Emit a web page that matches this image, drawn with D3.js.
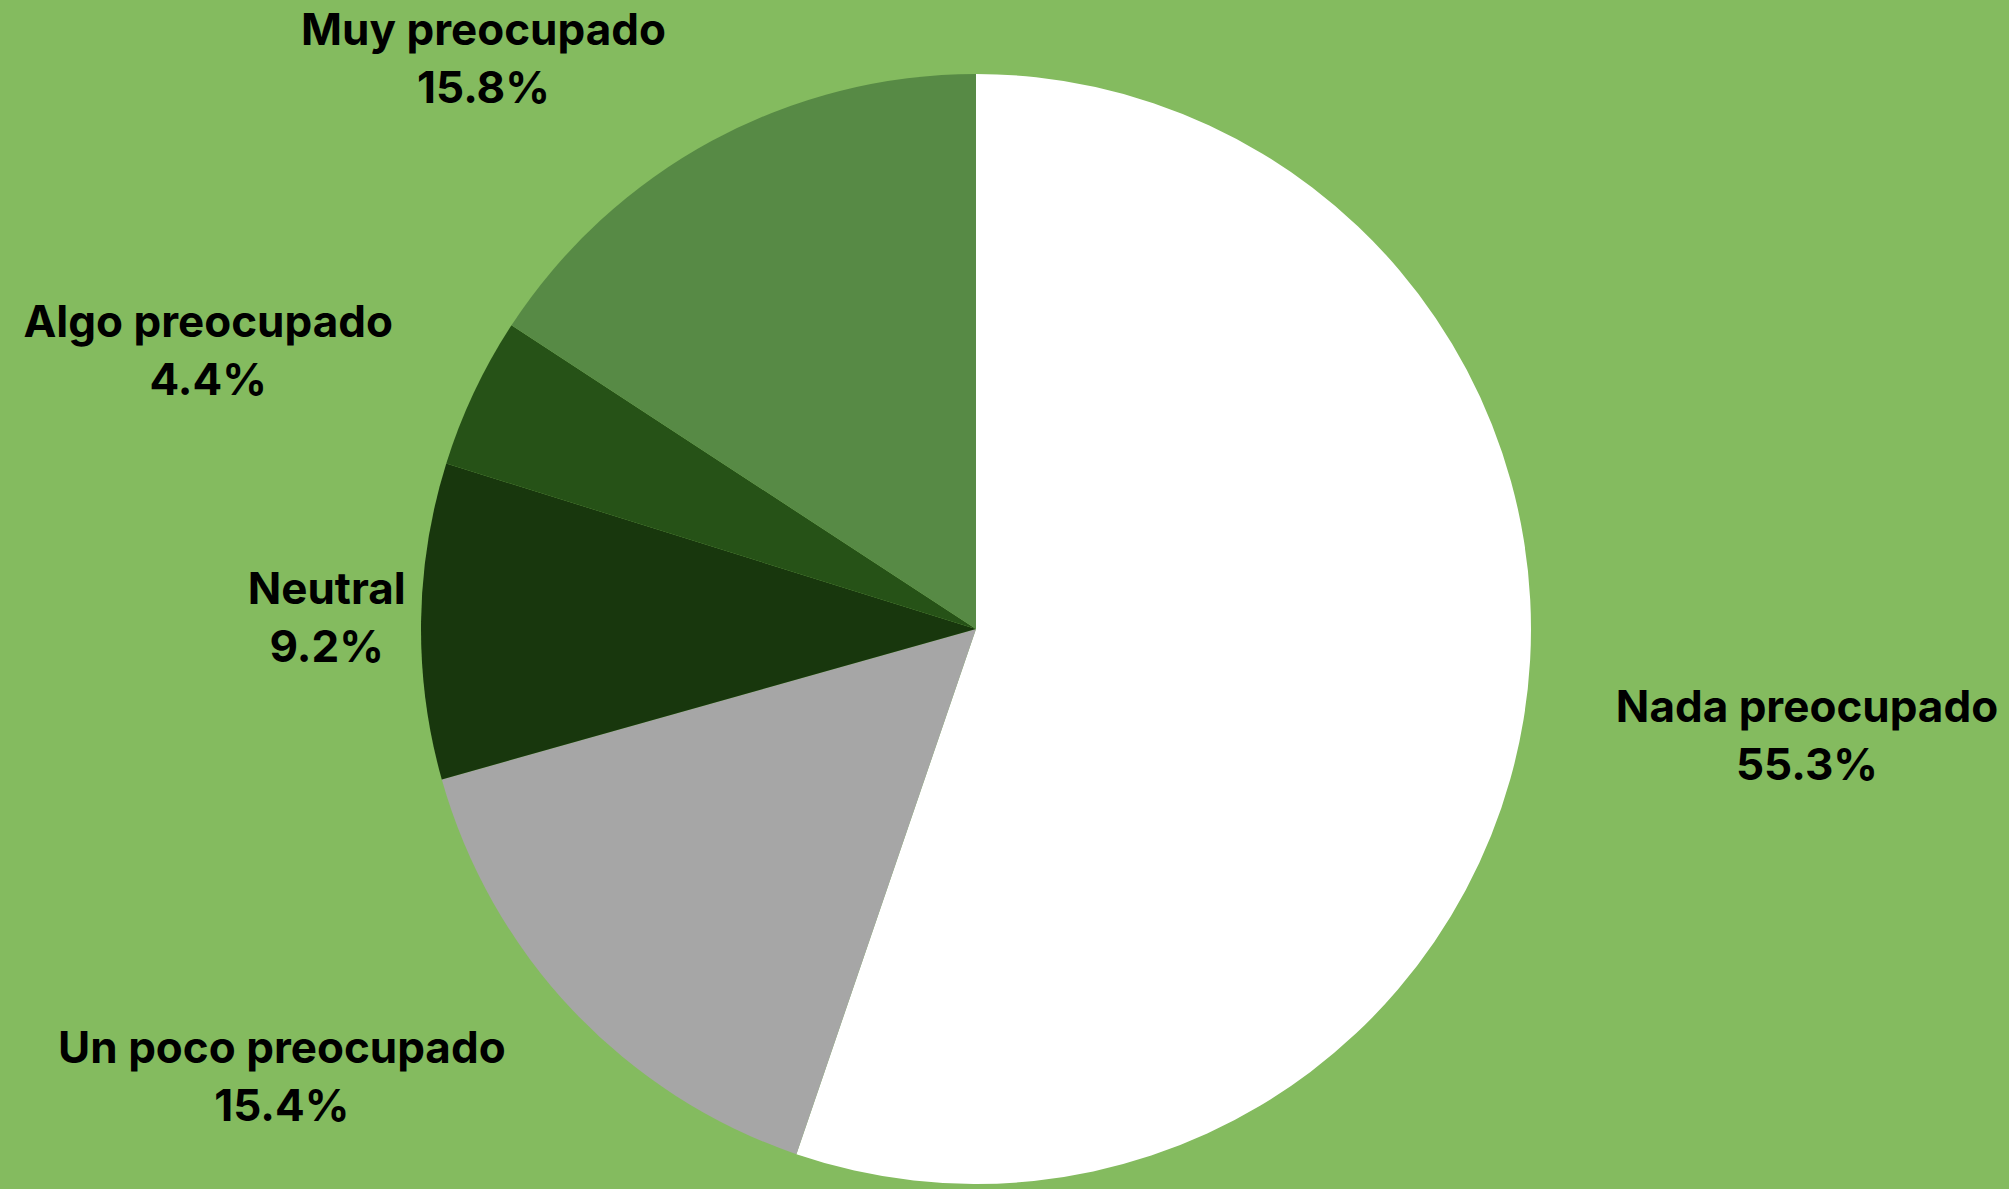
<!DOCTYPE html>
<html>
<head>
<meta charset="utf-8">
<script src="https://cdn.jsdelivr.net/npm/d3@7"></script>
<style>
  html, body { margin: 0; padding: 0; background: #84BB5F; }
  svg text { font-family: "Inter", "Liberation Sans", sans-serif; font-weight: 700; fill: #000; }
</style>
</head>
<body>
<div id="chart"></div>
<script>
// data, clockwise from 12 o'clock
const categories = ["Nada preocupado", "Un poco preocupado", "Neutral", "Algo preocupado", "Muy preocupado"]
const percents = [55.3, 15.4, 9.2, 4.4, 15.8]
const colors = ["#FFFFFF", "#A6A6A6", "#18370D", "#265217", "#578A45"]

// where each label sits, relative to the slice's mid angle (degrees) and pie radius
const labelNudge = [-2, 10.5, 0, -5.5, -12.5]
const labelDist = [1.51, 1.49, 1.17, 1.47, 1.355]

const width = 2009, height = 1189
const cx = 976, cy = 629, radius = 555

const svg = d3.select("#chart")
  .append("svg")
    .attr("width", width)
    .attr("height", height)

svg.append("rect")
  .attr("width", width)
  .attr("height", height)
  .attr("fill", "#84BB5F")

const g = svg.append("g")
  .attr("transform", "translate(" + cx + "," + cy + ")")

const pie = d3.pie().sort(null).value(function (d) { return d })
const arcs = pie(percents)

const arc = d3.arc().innerRadius(0).outerRadius(radius)

g.selectAll("path")
  .data(arcs)
  .enter()
  .append("path")
    .attr("d", arc)
    .attr("fill", function (d, i) { return colors[i] })

const labels = g.selectAll("g.lbl")
  .data(arcs)
  .enter()
  .append("g")
    .attr("class", "lbl")
    .attr("transform", function (d, i) {
      const a = (d.startAngle + d.endAngle) / 2 + labelNudge[i] * Math.PI / 180
      const r = radius * labelDist[i]
      return "translate(" + (Math.sin(a) * r) + "," + (-Math.cos(a) * r) + ")"
    })

labels.append("text")
  .attr("text-anchor", "middle")
  .attr("y", -16)
  .style("font-size", "44px")
  .text(function (d, i) { return categories[i] })

labels.append("text")
  .attr("text-anchor", "middle")
  .attr("y", 42)
  .style("font-size", "44px")
  .text(function (d, i) { return d3.format(".1f")(percents[i]) + "%" })
</script>
</body>
</html>
